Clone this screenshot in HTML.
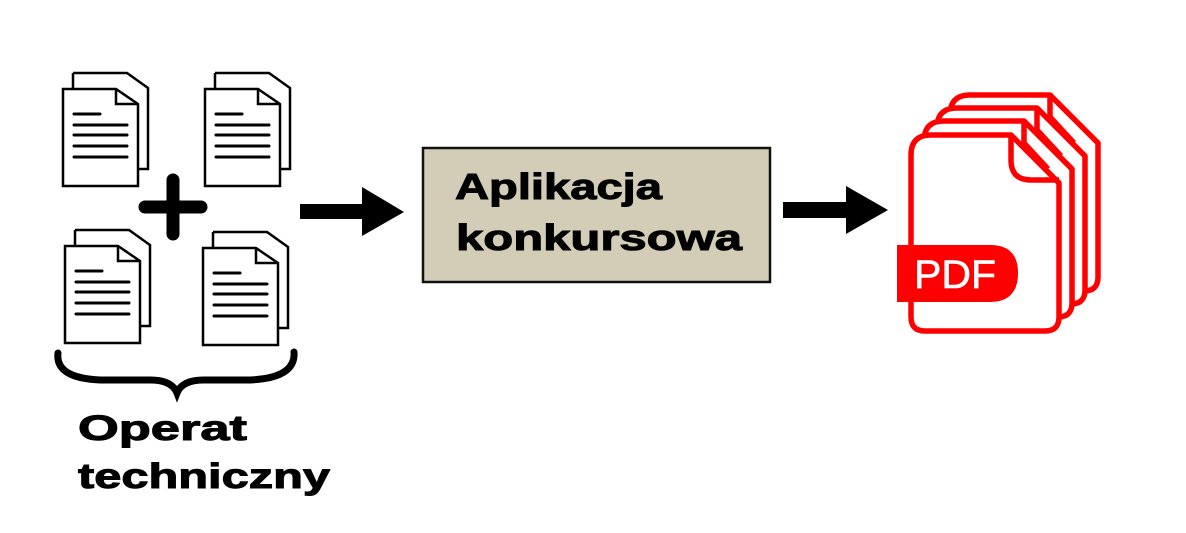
<!DOCTYPE html>
<html><head><meta charset="utf-8"><style>html,body{margin:0;padding:0;background:#fff;}svg{display:block}</style></head>
<body>
<svg width="1186" height="533" viewBox="0 0 1186 533" xmlns="http://www.w3.org/2000/svg">
<defs>
<g id="doc" fill="#fff" stroke="#000" stroke-width="2.5" stroke-linejoin="miter">
  <path d="M10,-16 H64 L85,-1 V80 H75"/>
  <path d="M10,0 V-16"/>
  <path d="M0,0 H53 L75,15 V97 H0 Z"/>
  <path d="M53,0 V15 H75" fill="none"/>
  <g stroke-width="3" stroke-linecap="round">
  <line x1="11" y1="25" x2="37" y2="25"/>
  <line x1="11" y1="36" x2="64" y2="36"/>
  <line x1="11" y1="46" x2="64" y2="46"/>
  <line x1="11" y1="57" x2="64" y2="57"/>
  <line x1="11" y1="68" x2="64" y2="68"/>
  </g>
</g>
<g id="pg" fill="#fff" stroke="#f00" stroke-width="5.5" stroke-linejoin="round">
  <path d="M20,0 H100 L148,48 V182 Q148,196 134,196 H14 Q0,196 0,182 V20 Q0,0 20,0 Z"/>
  <path d="M100,0 V22 L124,48" fill="none"/>
</g>
</defs>
<use href="#doc" x="63" y="89"/>
<use href="#doc" x="205" y="89"/>
<use href="#doc" x="65" y="246"/>
<use href="#doc" x="203" y="248"/>
<path d="M145,207 H201 M173,180 V234" stroke="#000" stroke-width="13" stroke-linecap="round"/>
<path d="M58,353 Q55,378 100,380 H150 Q172,380 177,393 Q182,380 204,380 H250 Q296,378 294,352" fill="none" stroke="#000" stroke-width="7" stroke-linecap="round"/>
<text x="78" y="440" font-family="Liberation Sans, sans-serif" font-weight="bold" font-size="35" textLength="169" lengthAdjust="spacingAndGlyphs" stroke="#000" stroke-width="1">Operat</text>
<text x="78" y="488" font-family="Liberation Sans, sans-serif" font-weight="bold" font-size="35" textLength="252" lengthAdjust="spacingAndGlyphs" stroke="#000" stroke-width="1">techniczny</text>
<path d="M300,204 H362 V187 L404,212 L362,236 V219 H300 Z" fill="#000"/>
<rect x="423" y="148" width="347" height="134" fill="#d3ccb7" stroke="#111" stroke-width="2.5"/>
<text x="455" y="199" font-family="Liberation Sans, sans-serif" font-weight="bold" font-size="36" textLength="207" lengthAdjust="spacingAndGlyphs" stroke="#000" stroke-width="1">Aplikacja</text>
<text x="456" y="250" font-family="Liberation Sans, sans-serif" font-weight="bold" font-size="36" textLength="286" lengthAdjust="spacingAndGlyphs" stroke="#000" stroke-width="1">konkursowa</text>
<path d="M783,202 H846 V186 L888,210 L846,234 V218 H783 Z" fill="#000"/>
<use href="#pg" x="950" y="95"/>
<use href="#pg" x="937" y="108"/>
<use href="#pg" x="924" y="121"/>
<g fill="#fff" stroke="#f00" stroke-width="5.5" stroke-linejoin="round">
  <path d="M931,135 H1011 L1059,183 V317 Q1059,331 1045,331 H925 Q911,331 911,317 V155 Q911,135 931,135 Z"/>
</g>
<path d="M1011,136 V160 Q1011,180 1031,180 H1059" fill="none" stroke="#f00" stroke-width="5.5"/>
<path d="M897,245 H990 Q1018,245 1018,273 Q1018,302 990,302 H897 Z" fill="#f00"/>
<text x="955" y="288" text-anchor="middle" font-family="Liberation Sans, sans-serif" font-size="40" fill="#fff" stroke="#fff" stroke-width="0.6" textLength="82" lengthAdjust="spacingAndGlyphs">PDF</text>
</svg>
</body></html>
